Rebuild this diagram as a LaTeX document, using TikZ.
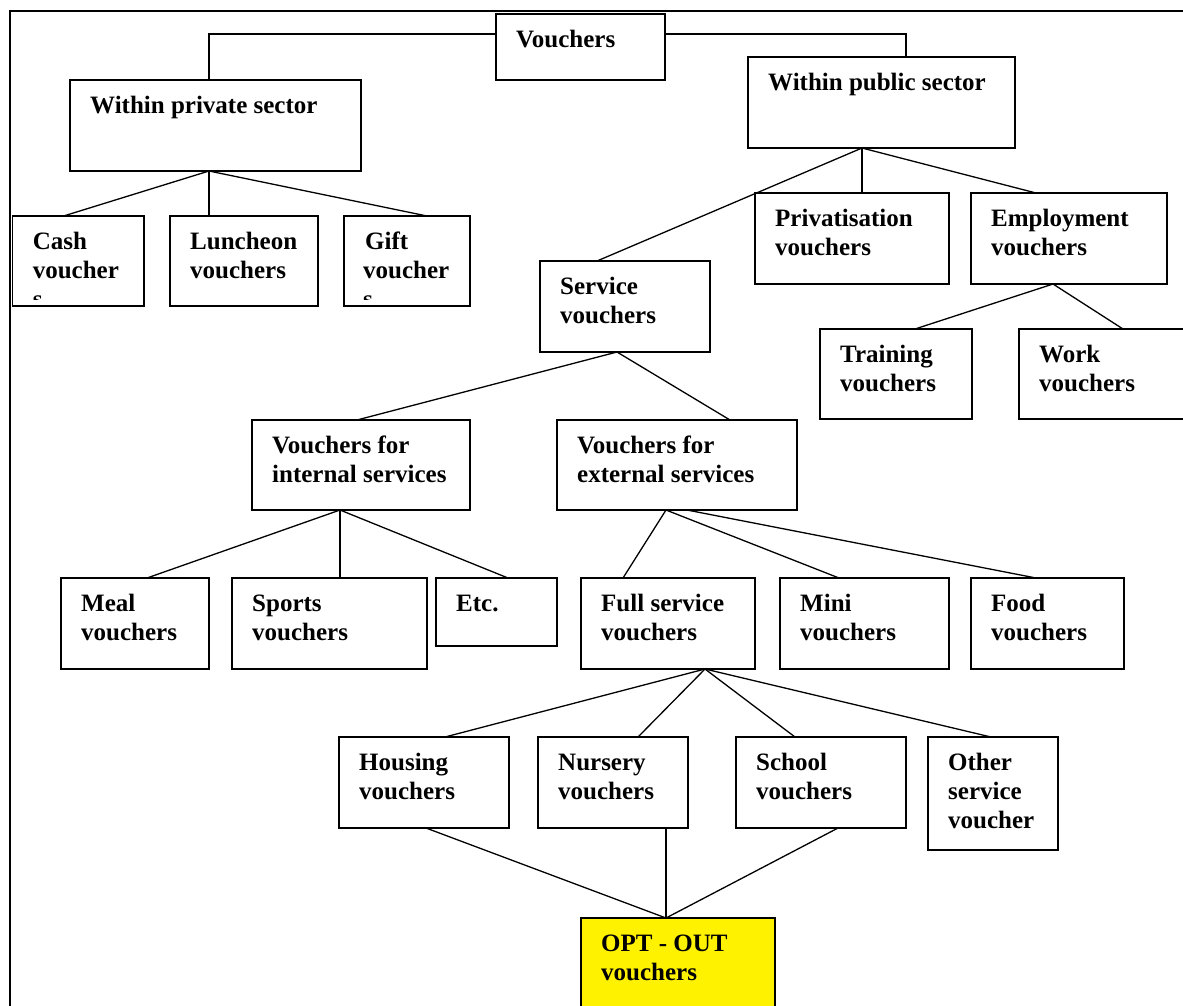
\documentclass[tikz,border=0pt]{standalone}
\usepackage{fontspec}
\setmainfont{Liberation Serif}
\tikzset{
  box/.style={draw, line width=1.6pt, rectangle, anchor=north west, inner sep=0pt, outer sep=0pt, fill=white},
  txt/.style={anchor=north west, inner sep=0pt, align=left, font=\bfseries\fontsize{25}{29}\selectfont},
  conn/.style={line width=1.3pt},
  optbox/.style={box, fill=yellow},
  frame/.style={line width=2.4pt}
}
\newcommand\bx[7][box]{%
  \node[#1, minimum width={#5pt-#3pt}, minimum height={#6pt-#4pt}] (#2) at (#3,#4) {};
  \node[txt] (#2t) at ([xshift=20pt,yshift=-12.7pt]#2.north west) {\strut #7};
}
\newcommand\bxe[5]{%
  \node[box, minimum width={#4pt-#2pt}, minimum height={#5pt-#3pt}] (#1) at (#2,#3) {};
}
\begin{document}
\begin{tikzpicture}[x=1pt,y=-1pt]
\useasboundingbox (0,0) rectangle (1183,1005);
\clip (0,0) rectangle (1183,1005);
\fill[white] (0,0) rectangle (1183,1005);
% frame (top and left edges; the rest runs off the page)
\coordinate (ftl) at (10,11);
\coordinate (ftr) at (1200,11);
\coordinate (fbl) at (10,1020);
\draw[frame] (ftr) -- (ftl) -- (fbl);

% boxes
\bx{vouchers}{496}{14}{665}{80}{Vouchers}
\bx{private}{70}{80}{361}{171}{Within private sector}
\bx{public}{748}{57}{1015}{148}{Within public sector}
\bxe{cash}{12.6}{216}{144}{306}
\bx{lunch}{170}{216}{318}{306}{Luncheon\\vouchers}
\bxe{gift}{344}{216}{470}{306}
\bx{service}{540}{261}{710}{352}{Service\\vouchers}
\bx{priv}{755}{193}{949}{284}{Privatisation\\vouchers}
\bx{emp}{971}{193}{1167}{284}{Employment\\vouchers}
\bx{training}{820}{329}{972}{419}{Training\\vouchers}
\bx{work}{1019}{329}{1200}{419}{Work\\vouchers}
\bx{internal}{252}{420}{470}{510}{Vouchers for\\internal services}
\bx{external}{557}{420}{797}{510}{Vouchers for\\external services}
\bx{meal}{61}{578}{209}{669}{Meal\\vouchers}
\bx{sports}{232}{578}{427}{669}{Sports\\vouchers}
\bx{etc}{436}{578}{557}{646}{Etc.}
\bx{full}{581}{578}{755}{669}{Full service\\vouchers}
\bx{mini}{780}{578}{949}{669}{Mini\\vouchers}
\bx{food}{971}{578}{1124}{669}{Food\\vouchers}
\bx{housing}{339}{737}{509}{828}{Housing\\vouchers}
\bx{nursery}{538}{737}{688}{828}{Nursery\\vouchers}
\bx{school}{736}{737}{906}{828}{School\\vouchers}
\bx{other}{928}{737}{1058}{850}{Other\\service\\voucher}
\bx[optbox]{opt}{581}{918}{775}{1020}{OPT - OUT\\vouchers}

% clipped texts of cash / gift boxes
\begin{scope}
\clip (12.6,216) rectangle (144,299);
\node[txt] (casht) at ([xshift=20pt,yshift=-12.7pt]cash.north west) {\strut Cash\\voucher\\s};
\end{scope}
\begin{scope}
\clip (344,216) rectangle (470,299);
\node[txt] (giftt) at ([xshift=19pt,yshift=-12.7pt]gift.north west) {\strut \hspace{2pt}Gift\\voucher\\s};
\end{scope}

% connectors
\draw[conn] ([yshift=-20pt]vouchers.north west) -| ([xshift=139pt]private.north west);
\draw[conn] ([yshift=-20pt]vouchers.north east) -| ([xshift=158pt]public.north west);

\draw[conn] ([xshift=139pt]private.south west) -- ([xshift=51pt]cash.north west);
\draw[conn] ([xshift=139pt]private.south west) -- ([xshift=39pt]lunch.north west);
\draw[conn] ([xshift=139pt]private.south west) -- ([xshift=83pt]gift.north west);

\draw[conn] ([xshift=114pt]public.south west) -- ([xshift=57pt]service.north west);
\draw[conn] ([xshift=114pt]public.south west) -- ([xshift=107pt]priv.north west);
\draw[conn] ([xshift=114pt]public.south west) -- ([xshift=65pt]emp.north west);

\draw[conn] ([xshift=82pt]emp.south west) -- ([xshift=95pt]training.north west);
\draw[conn] ([xshift=82pt]emp.south west) -- ([xshift=104pt]work.north west);

\draw[conn] ([xshift=77pt]service.south west) -- ([xshift=105pt]internal.north west);
\draw[conn] ([xshift=77pt]service.south west) -- ([xshift=173pt]external.north west);

\draw[conn] ([xshift=88pt]internal.south west) -- ([xshift=86pt]meal.north west);
\draw[conn] ([xshift=88pt]internal.south west) -- ([xshift=108pt]sports.north west);
\draw[conn] ([xshift=88pt]internal.south west) -- ([xshift=72pt]etc.north west);

\draw[conn] ([xshift=109pt]external.south west) -- ([xshift=42pt]full.north west);
\draw[conn] ([xshift=109pt]external.south west) -- ([xshift=59pt]mini.north west);
\draw[conn] ([xshift=130pt]external.south west) -- ([xshift=65pt]food.north west);

\draw[conn] ([xshift=124pt]full.south west) -- ([xshift=106pt]housing.north west);
\draw[conn] ([xshift=124pt]full.south west) -- ([xshift=100pt]nursery.north west);
\draw[conn] ([xshift=124pt]full.south west) -- ([xshift=59pt]school.north west);
\draw[conn] ([xshift=124pt]full.south west) -- ([xshift=63pt]other.north west);

\draw[conn] ([xshift=87pt]housing.south west) -- ([xshift=85pt]opt.north west);
\draw[conn] ([xshift=128pt]nursery.south west) -- ([xshift=85pt]opt.north west);
\draw[conn] ([xshift=102pt]school.south west) -- ([xshift=85pt]opt.north west);
\end{tikzpicture}
\end{document}
